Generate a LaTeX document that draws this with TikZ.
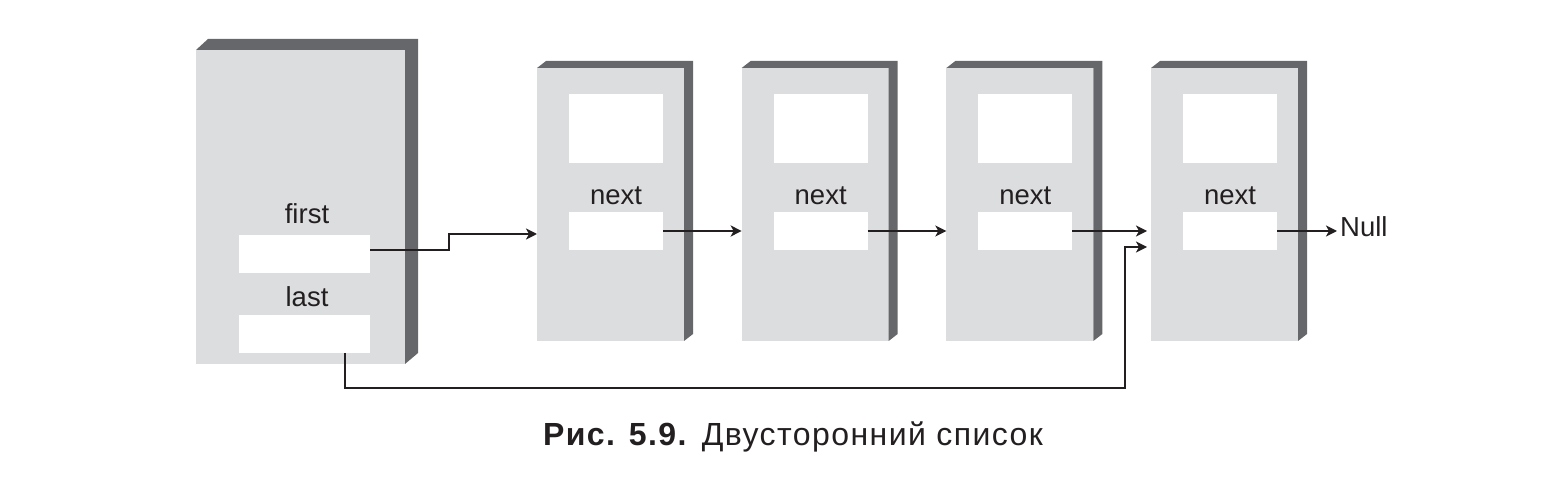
\documentclass[tikz,border=0pt]{standalone}
\usepackage{fontspec}
\setmainfont{Liberation Sans}
\usetikzlibrary{calc,arrows.meta}
\definecolor{facegray}{RGB}{220,221,223}
\definecolor{sidegray}{RGB}{102,103,106}
\definecolor{ink}{RGB}{35,31,32}
\tikzset{
  face/.style={fill=facegray, draw=none, minimum width=147pt, minimum height=273pt, inner sep=0pt, outer sep=0pt},
  field/.style={fill=white, draw=none, inner sep=0pt, outer sep=0pt, minimum width=94pt, minimum height=38pt},
  lbl/.style={font=\fontsize{27.5}{32}\selectfont, text=ink, inner sep=0pt, anchor=base},
  link/.style={draw=ink, line width=2pt, -{Stealth[length=11pt,width=11pt,inset=3pt]}},
  side/.style={fill=sidegray, draw=none}
}
\begin{document}
\begin{tikzpicture}[x=1pt,y=-1pt]
\useasboundingbox (0,0) rectangle (1551,486);
% head box
\fill[side] (196,50) -- ++(12,-11) -- (418,39) -- (418,353) -- (405,364) -- (405,50) -- cycle;
\node[face, minimum width=209pt, minimum height=314pt] (h) at (300.5,207) {};
\node[field, minimum width=131pt] (hf) at (304.5,254) {};
\node[field, minimum width=131pt] (hl) at (304.5,334) {};
\node[lbl] (tfirst) at (307,224) {first};
\node[lbl] (tlast) at (307,307) {last};
% list nodes
\foreach \i in {1,...,4} {
  \pgfmathsetmacro\cx{610.5+204.67*(\i-1)}
  \node[face] (n\i) at (\cx,204.5) {};
  \fill[side] (n\i.north west) -- ++(9,-7) -- ($(n\i.north east)+(9,-7)$) -- ($(n\i.south east)+(9,-7)$) -- (n\i.south east) -- (n\i.north east) -- cycle;
  \node[field, minimum height=69pt] (d\i) at ({\cx+5.5},128.5) {};
  \node[field] (p\i) at ({\cx+5.5},231) {};
  \node[lbl] (t\i) at ({\cx+5.5},205) {next};
}
\node[lbl, anchor=base west] (null) at (1340,237) {Null};
% connectors
\draw[link] ($(hf.east)+(0,-4)$) -- ++(79,0) -- ++(0,-16) -- ($(n1.west)+(0,29.5)$);
\draw[link] (p1.east) -- (p1.east -| n2.west);
\draw[link] (p2.east) -- (p2.east -| n3.west);
\draw[link] (p3.east) -- ($(p3.east -| n4.west)+(-4,0)$);
\draw[link] ($(hl.south)+(40.5,0)$) -- ++(0,35) -| ($(n4.west)+(-26,42.5)$) -- ($(n4.west)+(-4,42.5)$);
\draw[link] (p4.east) -- ($(p4.east -| null.west)+(-3,0)$);
% caption
\node[font=\fontsize{32}{38}\selectfont\addfontfeature{LetterSpace=4.5}, text=ink, anchor=base, inner sep=0pt] (cap) at (793,446) {\textbf{Рис. 5.9.} Двусторонний список};
\end{tikzpicture}
\end{document}
